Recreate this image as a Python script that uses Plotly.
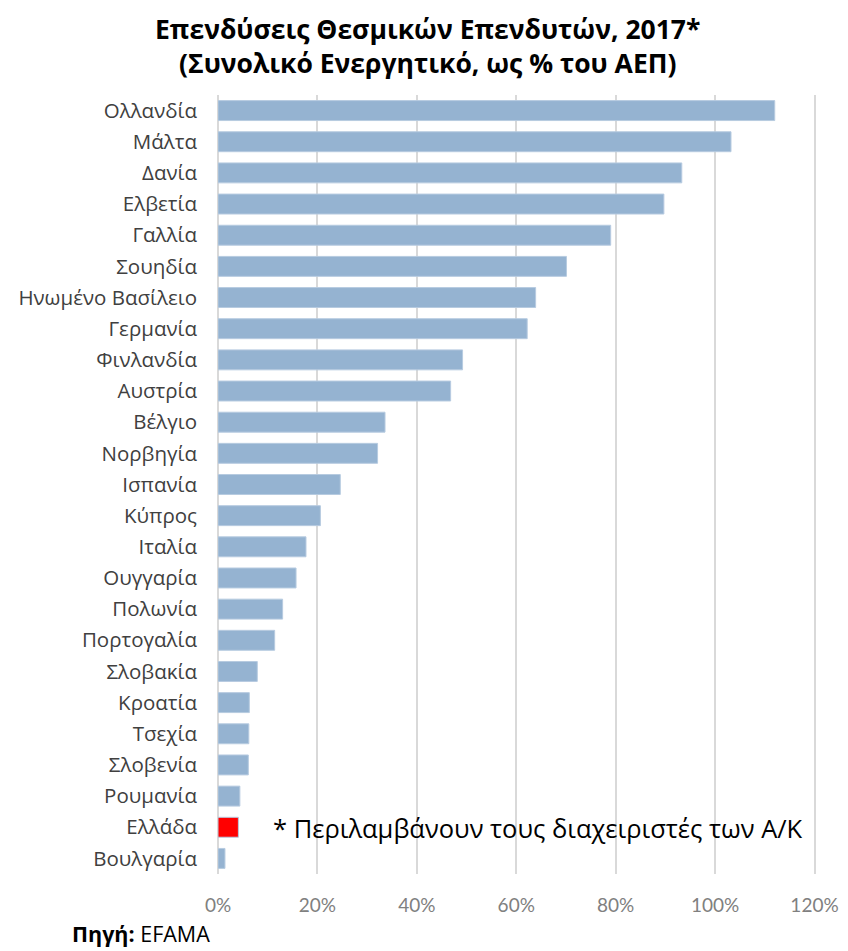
import plotly.graph_objects as go

# Χώρες από πάνω προς τα κάτω, όπως στο διάγραμμα
countries = [
    "Ολλανδία", "Μάλτα", "Δανία", "Ελβετία", "Γαλλία", "Σουηδία",
    "Ηνωμένο Βασίλειο", "Γερμανία", "Φινλανδία", "Αυστρία", "Βέλγιο",
    "Νορβηγία", "Ισπανία", "Κύπρος", "Ιταλία", "Ουγγαρία", "Πολωνία",
    "Πορτογαλία", "Σλοβακία", "Κροατία", "Τσεχία", "Σλοβενία",
    "Ρουμανία", "Ελλάδα", "Βουλγαρία",
]
# Συνολικό ενεργητικό ως % του ΑΕΠ (εκτίμηση από την εικόνα)
values = [
    112.0, 103.2, 93.3, 89.7, 79.0, 70.1,
    63.9, 62.2, 49.2, 46.8, 33.6,
    32.1, 24.6, 20.6, 17.7, 15.7, 13.0,
    11.4, 7.9, 6.3, 6.2, 6.1,
    4.4, 4.1, 1.4,
]
highlight = "Ελλάδα"
x_ticks = [0, 20, 40, 60, 80, 100, 120]
x_ticktext = [f"{v}%" for v in x_ticks]

BAR = "#95B3D1"
RED = "#FF0000"

colors = [RED if c == highlight else BAR for c in countries]

fig = go.Figure()
fig.add_trace(go.Bar(
    x=values, y=countries, orientation="h",
    marker=dict(color=colors, line=dict(color="#B7CBE0", width=1)),
    width=0.64,
    hovertemplate="%{y}: %{x:.1f}%<extra></extra>",
))

# η σελίδα έχει 8px περιθώριο στο body, άρα το σχήμα είναι 840x943
fig.update_layout(
    width=840, height=943,
    paper_bgcolor="white", plot_bgcolor="white",
    margin=dict(l=210, r=32, t=87, b=77),
    showlegend=False,
    xaxis=dict(
        range=[0, 120.3], tickvals=x_ticks, ticktext=x_ticktext,
        showgrid=True, gridcolor="#D9D9D9", gridwidth=1.5,
        zeroline=True, zerolinecolor="#D9D9D9", zerolinewidth=1.5,
        tickfont=dict(family="Lato", size=19, color="#808080"),
        ticks="", ticklabelstandoff=18, automargin=False,
    ),
    yaxis=dict(
        categoryorder="array", categoryarray=countries[::-1],
        autorange=False, range=[-0.5, len(countries) - 0.5],
        tickfont=dict(family="Open Sans", size=20.5, color="#404040"),
        ticks="", ticklabelstandoff=20, showgrid=False, automargin=False,
    ),
    annotations=[
        dict(
            text="Επενδύσεις Θεσμικών Επενδυτών, 2017*<br>(Συνολικό Ενεργητικό, ως % του ΑΕΠ)",
            xref="paper", yref="paper", x=0.3495, y=1.111,
            xanchor="center", yanchor="top", showarrow=False,
            font=dict(family="Open Sans", size=26.5, color="black", weight="bold"),
        ),
        dict(
            text="* Περιλαμβάνουν τους διαχειριστές των Α/Κ",
            xref="paper", yref="paper", x=0.088, y=0.059,
            xanchor="left", yanchor="middle", showarrow=False,
            font=dict(family="Open Sans", size=25.5, color="black"),
        ),
        dict(
            text="<b>Πηγή:</b> EFAMA",
            xref="paper", yref="paper", x=-0.248, y=-0.077,
            xanchor="left", yanchor="middle", showarrow=False,
            font=dict(family="Open Sans", size=21.5, color="black"),
        ),
    ],
)

fig.write_html("out.html")
